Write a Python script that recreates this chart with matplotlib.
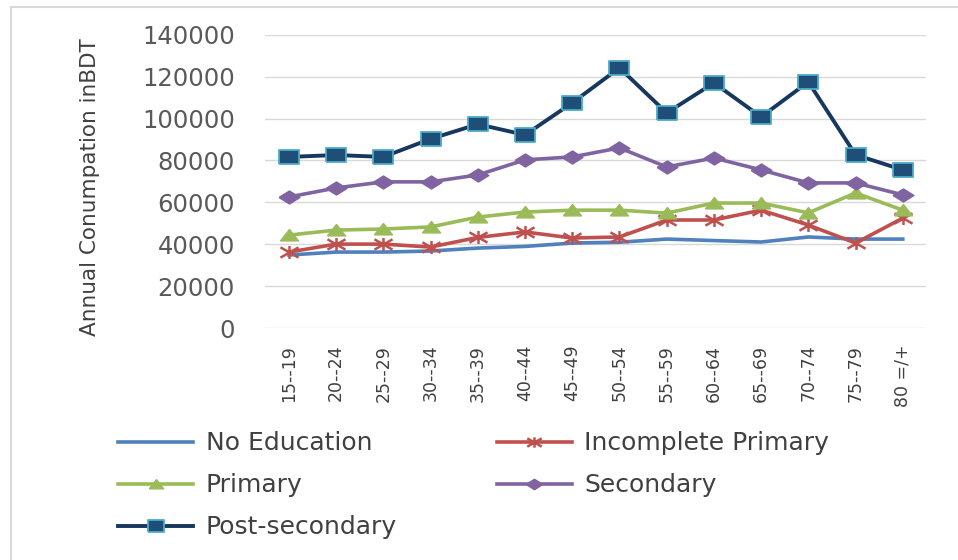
import matplotlib.pyplot as plt
from matplotlib.patches import Rectangle
from matplotlib.path import Path

# Age groups and annual consumption by education level
age_groups = ['15--19', '20--24', '25--29', '30--34', '35--39', '40--44', '45--49',
              '50--54', '55--59', '60--64', '65--69', '70--74', '75--79', '80 =/+']
no_education = [34900, 36300, 36300, 36800, 38200, 39000, 40600,
                41000, 42500, 41800, 41100, 43500, 42500, 42500]
incomplete_primary = [36300, 40100, 40100, 38700, 43300, 45900, 43000,
                      43500, 51600, 51600, 56300, 49200, 40600, 52500]
primary = [44400, 46800, 47300, 48300, 53000, 55400, 56300,
           56300, 54900, 59700, 59700, 55000, 64500, 56300]
secondary = [62600, 66900, 69800, 69800, 73100, 80300, 81700,
             86000, 76900, 81200, 75500, 69300, 69300, 63600]
post_secondary = [81700, 82600, 81700, 90300, 97300, 92200, 107500,
                  124200, 102700, 117000, 100800, 117500, 82700, 75500]

# wide markers
square = Path([(-1.5, -1), (1.5, -1), (1.5, 1), (-1.5, 1), (-1.5, -1)])
diamond = Path([(-1.6, 0), (0, 1), (1.6, 0), (0, -1), (-1.6, 0)])
triangle = Path([(-1.5, -0.9), (0, 1), (1.5, -0.9), (-1.5, -0.9)])
asterisk = Path([(0, -1), (0, 1), (-1.4, -0.8), (1.4, 0.8), (-1.4, 0.8), (1.4, -0.8)],
                [Path.MOVETO, Path.LINETO] * 3)

fig = plt.figure(figsize=(9.58, 5.6), dpi=100)
ax = fig.add_axes([0.277, 0.414, 0.690, 0.524])

x = range(len(age_groups))
l1, = ax.plot(x, no_education, color='#4f81bd', lw=2.6, label='No Education')
l2, = ax.plot(x, incomplete_primary, color='#c0504d', lw=2.6, marker=asterisk,
              ms=13, mec='#c0504d', mew=1.8, label='Incomplete Primary')
l3, = ax.plot(x, primary, color='#9bbb59', lw=2.6, marker=triangle, ms=13,
              label='Primary')
l4, = ax.plot(x, secondary, color='#8064a2', lw=2.6, marker=diamond, ms=15,
              label='Secondary')
l5, = ax.plot(x, post_secondary, color='#17375e', lw=2.8, marker=square, ms=15,
              mfc='#1f4e79', mec='#4bacc6', mew=1.3, label='Post-secondary')

ax.set_xlim(-0.5, len(age_groups) - 0.5)
ax.set_ylim(0, 140000)
ax.set_yticks(range(0, 140001, 20000))
ax.tick_params(axis='y', labelsize=17.5, labelcolor='#595959', length=0, pad=22)
ax.set_xticks(list(x))
ax.set_xticklabels(age_groups, rotation=90, fontsize=12.5, color='#404040')
ax.tick_params(axis='x', length=0, pad=12)
ax.grid(axis='y', color='#d9d9d9', lw=1)
ax.set_axisbelow(True)
for s in ax.spines.values():
    s.set_visible(False)

ax.set_ylabel('Annual Conumpation inBDT', fontsize=15.5, color='#404040')
ax.yaxis.set_label_coords(-0.25, 0.48)

# legend laid out row by row
fig.legend([l1, l3, l5, l2, l4],
           ['No Education', 'Primary', 'Post-secondary', 'Incomplete Primary', 'Secondary'],
           ncol=2, loc='upper left', bbox_to_anchor=(0.1, 0.27),
           frameon=False, fontsize=18, handlelength=3.0, handletextpad=0.5,
           columnspacing=4.0, labelspacing=0.72, labelcolor='#404040',
           markerscale=0.8)

# chart border
fig.patches.append(Rectangle((11 / 958, -0.1), 1.2, 1.1 - 7 / 560,
                             transform=fig.transFigure, fill=False,
                             edgecolor='#d9d9d9', lw=1.5))

fig.savefig('out.png', dpi=100)
